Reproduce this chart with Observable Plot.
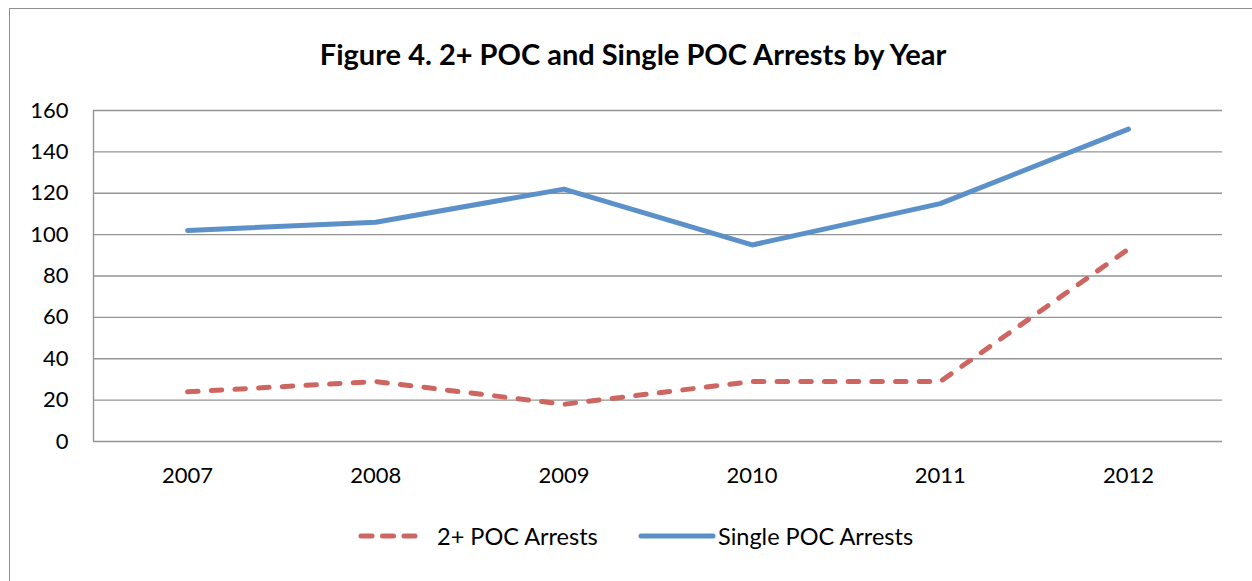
<!DOCTYPE html>
<html>
<head>
<meta charset="utf-8">
<script src="https://cdn.jsdelivr.net/npm/d3@7"></script>
<script src="https://cdn.jsdelivr.net/npm/@observablehq/plot@0.6"></script>
<style>
  html, body { margin: 0; padding: 0; background: #fff; overflow: hidden; }
  body { width: 1252px; height: 581px; position: relative; font-family: Lato, "Open Sans", sans-serif; color: #000; }
  #frame { position: absolute; left: 9px; top: 8px; width: 1400px; height: 700px; border-top: 1.5px solid #8f8f8f; border-left: 1.5px solid #8f8f8f; box-sizing: border-box; }
  #title { position: absolute; left: 0; top: 37px; width: 1266px; text-align: center; font-weight: 700; font-size: 29px; line-height: 34px; white-space: nowrap; }
  #chart { position: absolute; left: 0; top: 95px; }
  #legend { position: absolute; left: 0; top: 518px; width: 1252px; height: 36px; font-size: 23.5px; }
  .item { position: absolute; top: 0; display: flex; align-items: center; height: 36px; white-space: nowrap; }
  .item svg { display: block; }
</style>
</head>
<body>
<div id="frame"></div>
<div id="title">Figure 4. 2+ POC and Single POC Arrests by Year</div>
<div id="chart"></div>
<div id="legend"></div>
<script>
// Arrest counts by year
const years = [2007, 2008, 2009, 2010, 2011, 2012];
const multiPoc = [24, 29, 18, 29, 29, 93];
const singlePoc = [102, 106, 122, 95, 115, 151];
const yTicks = [0, 20, 40, 60, 80, 100, 120, 140, 160];

const seriesNames = ["2+ POC Arrests", "Single POC Arrests"];
const seriesColors = ["#cd6661", "#5b90c8"];

const rows = years.flatMap((year, i) => [
  {year, value: multiPoc[i], series: seriesNames[0]},
  {year, value: singlePoc[i], series: seriesNames[1]}
]);

const gridColor = "#959595";

const chart = Plot.plot({
  width: 1252,
  height: 406,
  marginTop: 15,
  marginBottom: 60,
  marginLeft: 93,
  marginRight: 30,
  style: {fontFamily: "Lato, 'Open Sans', sans-serif", fontSize: "22px", color: "#000", background: "transparent"},
  x: {domain: [2006.5, 2012.5], ticks: years, tickFormat: d => String(d), label: null},
  y: {domain: [0, 160], ticks: yTicks, label: null},
  marks: [
    Plot.ruleY(yTicks, {stroke: gridColor, strokeWidth: 1.4}),
    Plot.ruleX([2006.5], {y1: 0, y2: 160, stroke: gridColor, strokeWidth: 1.4}),
    Plot.axisY({ticks: yTicks, tickSize: 0, tickPadding: 25, label: null}),
    Plot.axisX({ticks: years, tickFormat: d => String(d), tickSize: 0, tickPadding: 26, label: null}),
    Plot.lineY(rows.filter(d => d.series === seriesNames[1]), {
      x: "year", y: "value", stroke: seriesColors[1], strokeWidth: 5, strokeLinecap: "round", strokeLinejoin: "round"
    }),
    Plot.lineY(rows.filter(d => d.series === seriesNames[0]), {
      x: "year", y: "value", stroke: seriesColors[0], strokeWidth: 5, strokeLinecap: "round", strokeLinejoin: "round",
      strokeDasharray: "10.5 13.2"
    })
  ]
});
document.getElementById("chart").appendChild(chart);

// Legend: swatch + label for each series
const legend = document.getElementById("legend");
const legendItems = [
  {name: seriesNames[0], color: seriesColors[0], dash: "11 10.5", left: 358, swatch: 60, gap: 19},
  {name: seriesNames[1], color: seriesColors[1], dash: null, left: 638, swatch: 78, gap: 2}
];
for (const it of legendItems) {
  const div = document.createElement("div");
  div.className = "item";
  div.style.left = it.left + "px";
  const svg = d3.create("svg").attr("width", it.swatch).attr("height", 12);
  svg.append("line")
    .attr("x1", 3).attr("x2", it.swatch - 3).attr("y1", 6).attr("y2", 6)
    .attr("stroke", it.color).attr("stroke-width", 5).attr("stroke-linecap", "round")
    .attr("stroke-dasharray", it.dash);
  div.appendChild(svg.node());
  const span = document.createElement("span");
  span.textContent = it.name;
  span.style.marginLeft = it.gap + "px";
  div.appendChild(span);
  legend.appendChild(div);
}
</script>
</body>
</html>
